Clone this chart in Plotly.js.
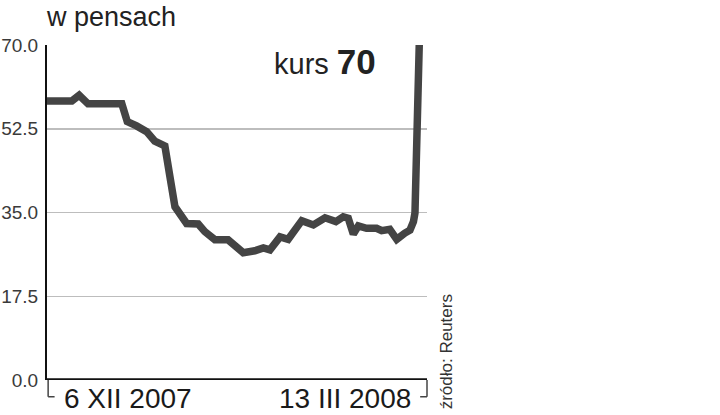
<!DOCTYPE html>
<html>
<head>
<meta charset="utf-8">
<script src="https://cdn.plot.ly/plotly-3.0.1.min.js"></script>
<style>html,body{margin:0;padding:0;background:#fff;}#chart{width:720px;height:415px;}</style>
</head>
<body>
<div id="chart"></div>
<script>
// days since 6 XII 2007
const dayOffsets = [0, 6.4, 8.3, 10.6, 19.3, 20.7, 23.1, 25.7, 27.8, 30.4, 31.7, 33.0, 36.0, 39.0, 40.7, 43.3, 46.7, 50.6, 53.6, 55.8, 57.5, 60.1, 62.2, 65.7, 68.7, 71.7, 74.5, 76.4, 77.7, 79.0, 80.3, 82.4, 85.0, 86.3, 88.4, 90.2, 92.3, 93.6, 94.5, 94.9, 96.0];
const kurs = [58.3, 58.3, 59.5, 57.7, 57.7, 54.0, 53.1, 51.9, 49.9, 48.9, 42.5, 36.2, 32.7, 32.6, 31.0, 29.3, 29.3, 26.6, 27.0, 27.6, 27.2, 29.9, 29.4, 33.3, 32.4, 33.9, 33.1, 34.1, 33.8, 30.5, 32.2, 31.7, 31.7, 31.2, 31.5, 29.4, 30.7, 31.3, 33.1, 34.9, 70.0];
const yTicks = [0, 17.5, 35, 52.5, 70];
const yTickLabels = ["0.0", "17.5", "35.0", "52.5", "70.0"];
const xRangeDays = [0, 98];
const xLabels = ["6 XII 2007", "13 III 2008"];
const unitLabel = "w pensach";
const lastLabel = "kurs <span style=\"font-size:35px\"><b>70</b></span>";
const sourceLabel = "źródło: Reuters";

const trace = {
  x: dayOffsets, y: kurs, type: "scatter", mode: "lines",
  line: {color: "#444444", width: 7.5, shape: "linear"},
  hoverinfo: "skip"
};

const layout = {
  width: 720, height: 415,
  margin: {l: 47, r: 293, t: 45, b: 35},
  paper_bgcolor: "#fff", plot_bgcolor: "#fff",
  showlegend: false,
  xaxis: {range: xRangeDays, showgrid: false, zeroline: false, showticklabels: false, ticks: "", showline: false, fixedrange: true},
  yaxis: {range: [0, 70], tickvals: yTicks, ticktext: yTickLabels, showgrid: true, gridcolor: "#bdbdbd", gridwidth: 1.5,
          zeroline: false, showline: true, linecolor: "#111", linewidth: 2, ticks: "", ticklen: 0,
          tickfont: {family: "Liberation Sans", size: 19, color: "#3a3a3a"}, ticklabelstandoff: 3, fixedrange: true},
  shapes: [
    {type: "line", xref: "paper", yref: "y", x0: 0, x1: 1, y0: 0, y1: 0, line: {color: "#111", width: 3.5}},
    {type: "line", xref: "paper", yref: "paper", x0: 0.003, x1: 0.003, y0: 0, y1: -0.05, line: {color: "#444", width: 1.5}},
    {type: "line", xref: "paper", yref: "paper", x0: 0.003, x1: 0.02, y0: -0.05, y1: -0.05, line: {color: "#444", width: 1.5}},
    {type: "line", xref: "paper", yref: "paper", x0: 1, x1: 1, y0: 0, y1: -0.05, line: {color: "#444", width: 1.5}},
    {type: "line", xref: "paper", yref: "paper", x0: 0.982, x1: 1, y0: -0.05, y1: -0.05, line: {color: "#444", width: 1.5}}
  ],
  annotations: [
    {text: unitLabel, xref: "paper", yref: "paper", x: -0.007, y: 1.083, xanchor: "left", yanchor: "middle", showarrow: false,
     font: {family: "Liberation Sans", size: 27, color: "#222"}},
    {text: lastLabel, xref: "paper", yref: "paper", x: 0.872, y: 0.95, xanchor: "right", yanchor: "middle", showarrow: false,
     font: {family: "Liberation Sans", size: 29, color: "#222"}},
    {text: xLabels[0], xref: "paper", yref: "paper", x: 0.04, y: -0.055, xanchor: "left", yanchor: "middle", showarrow: false,
     font: {family: "Liberation Sans", size: 28, color: "#1a1a1a"}},
    {text: xLabels[1], xref: "paper", yref: "paper", x: 0.963, y: -0.055, xanchor: "right", yanchor: "middle", showarrow: false,
     font: {family: "Liberation Sans", size: 28, color: "#1a1a1a"}},
    {text: sourceLabel, xref: "paper", yref: "paper", x: 1.05, y: -0.095, xanchor: "center", yanchor: "bottom", textangle: -90, showarrow: false,
     font: {family: "Liberation Sans", size: 17, color: "#333"}}
  ]
};

Plotly.newPlot("chart", [trace], layout, {staticPlot: true, displayModeBar: false});
</script>
</body>
</html>
